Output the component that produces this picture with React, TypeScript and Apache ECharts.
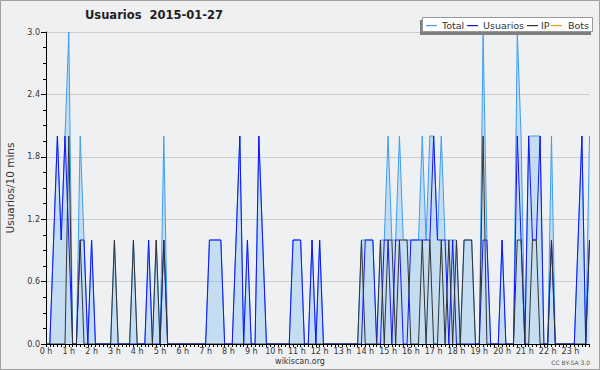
import React, { useEffect, useRef } from "react";
import * as echarts from "echarts";

const hourLabels = [
  "0 h", "1 h", "2 h", "3 h", "4 h", "5 h", "6 h", "7 h", "8 h", "9 h", "10 h", "11 h",
  "12 h", "13 h", "14 h", "15 h", "16 h", "17 h", "18 h", "19 h", "20 h", "21 h", "22 h", "23 h",
];
const minuteSlots = ["00", "10", "20", "30", "40", "50"];

const yTicks = [0, 0.6, 1.2, 1.8, 2.4, 3.0];

const seriesNames = ["Total", "Usuarios", "IP", "Bots"];

// 10-minute values, one row per hour
const total = [
  0, 0, 1, 2, 1, 2,
  3, 0, 0, 2, 1, 0,
  1, 0, 0, 0, 0, 0,
  1, 0, 0, 0, 0, 1,
  0, 0, 0, 1, 0, 1,
  0, 2, 0, 0, 0, 0,
  0, 0, 0, 0, 0, 0,
  0, 1, 1, 1, 1, 0,
  0, 0, 1, 2, 0, 1,
  0, 0, 2, 1, 0, 0,
  0, 0, 0, 0, 0, 1,
  1, 1, 0, 0, 1, 0,
  1, 0, 0, 0, 0, 0,
  0, 0, 0, 0, 0, 1,
  1, 1, 1, 0, 1, 1,
  2, 1, 1, 2, 1, 1,
  1, 1, 1, 2, 1, 2,
  2, 1, 2, 1, 1, 1,
  1, 0, 1, 1, 1, 0,
  0, 3, 1, 0, 0, 0,
  1, 0, 0, 0, 3, 2,
  0, 2, 2, 2, 2, 0,
  0, 2, 0, 0, 0, 0,
  0, 0, 1, 2, 0, 2,
];

const usuarios = [
  0, 0, 1, 2, 1, 2,
  1, 0, 0, 1, 1, 0,
  1, 0, 0, 0, 0, 0,
  0, 0, 0, 0, 0, 0,
  0, 0, 0, 1, 0, 0,
  0, 1, 0, 0, 0, 0,
  0, 0, 0, 0, 0, 0,
  0, 1, 1, 1, 1, 0,
  0, 0, 1, 2, 0, 1,
  0, 0, 2, 1, 0, 0,
  0, 0, 0, 0, 0, 1,
  1, 1, 0, 0, 1, 0,
  1, 0, 0, 0, 0, 0,
  0, 0, 0, 0, 0, 0,
  1, 1, 1, 0, 0, 1,
  1, 0, 1, 1, 0, 0,
  1, 1, 1, 1, 1, 1,
  2, 1, 1, 1, 0, 1,
  0, 0, 0, 0, 0, 0,
  0, 1, 1, 0, 0, 0,
  1, 0, 0, 0, 2, 1,
  0, 2, 1, 1, 2, 0,
  0, 1, 0, 0, 0, 0,
  0, 0, 1, 2, 0, 1,
];

const ip = [
  0, 0, 0, 0, 0, 0,
  2, 0, 0, 1, 0, 0,
  0, 0, 0, 0, 0, 0,
  1, 0, 0, 0, 0, 1,
  0, 0, 0, 0, 0, 1,
  0, 1, 0, 0, 0, 0,
  0, 0, 0, 0, 0, 0,
  0, 0, 0, 0, 0, 0,
  0, 0, 0, 0, 0, 0,
  0, 0, 0, 0, 0, 0,
  0, 0, 0, 0, 0, 0,
  0, 0, 0, 0, 0, 0,
  0, 0, 0, 0, 0, 0,
  0, 0, 0, 0, 0, 1,
  0, 0, 0, 0, 1, 0,
  1, 1, 0, 1, 1, 1,
  0, 0, 0, 1, 0, 1,
  0, 0, 1, 0, 1, 0,
  1, 0, 1, 1, 1, 0,
  0, 2, 0, 0, 0, 0,
  0, 0, 0, 0, 1, 1,
  0, 0, 1, 1, 0, 0,
  0, 1, 0, 0, 0, 0,
  0, 0, 0, 0, 0, 1,
];

const bots = [
  0, 0, 0, 0, 0, 0, 0, 0, 0, 0, 0, 0,
  0, 0, 0, 0, 0, 0, 0, 0, 0, 0, 0, 0,
  0, 0, 0, 0, 0, 0, 0, 0, 0, 0, 0, 0,
  0, 0, 0, 0, 0, 0, 0, 0, 0, 0, 0, 0,
  0, 0, 0, 0, 0, 0, 0, 0, 0, 0, 0, 0,
  0, 0, 0, 0, 0, 0, 0, 0, 0, 0, 0, 0,
  0, 0, 0, 0, 0, 0, 0, 0, 0, 0, 0, 0,
  0, 0, 0, 0, 0, 0, 0, 0, 0, 0, 0, 0,
  0, 0, 0, 0, 0, 0, 0, 0, 0, 0, 0, 0,
  0, 0, 0, 0, 0, 0, 0, 0, 0, 0, 0, 0,
  0, 0, 0, 0, 0, 0, 0, 0, 0, 0, 0, 0,
  0, 0, 0, 0, 0, 0, 0, 0, 0, 0, 0, 0,
];

const COLORS = {
  total: "#3d9df2",
  totalFill: "rgba(60,160,235,0.235)",
  usuarios: "#1414ff",
  ip: "#333333",
  bots: "#ff9900",
};
const seriesColors = [COLORS.total, COLORS.usuarios, COLORS.ip, COLORS.bots];
// legend layout: x of each entry's line start, x of its text
const legendLineX = [426, 467, 527, 551];
const legendTextX = [442, 483, 541, 568];

const FONT = "DejaVu Sans";

export default function App() {
  const ref = useRef<HTMLDivElement>(null);

  useEffect(() => {
    document.body.style.margin = "0";
    if (!ref.current) return;
    const chart = echarts.init(ref.current, undefined, { renderer: "svg" });

    const categories: string[] = [];
    hourLabels.forEach((_, h) => {
      minuteSlots.forEach((m) => categories.push(`${h}:${m}`));
    });

    const legendGraphics: any[] = [];
    seriesNames.forEach((name, k) => {
      legendGraphics.push({
        type: "rect",
        z: 11,
        silent: true,
        shape: { x: legendLineX[k], y: 25, width: 11, height: 1.2 },
        style: { fill: seriesColors[k], stroke: null },
      });
      legendGraphics.push({
        type: "text",
        z: 11,
        silent: true,
        x: legendTextX[k],
        y: 25,
        style: {
          text: name,
          fill: "#333",
          font: `9.5px "${FONT}"`,
          align: "left",
          verticalAlign: "middle",
          textAlign: "left",
          textVerticalAlign: "middle",
        },
      });
    });

    chart.setOption({
      animation: false,
      backgroundColor: "#eff0f2",
      title: {
        text: "Usuarios  2015-01-27",
        left: 85,
        top: 9,
        padding: 0,
        textStyle: { fontSize: 11.5, fontWeight: "bold", color: "#222", fontFamily: FONT },
      },
      legend: { show: false, data: seriesNames },
      grid: {
        left: 46,
        right: 10.5,
        top: 32,
        bottom: 26,
        containLabel: false,
        outerBoundsMode: "none",
      },
      xAxis: {
        type: "category",
        data: categories,
        boundaryGap: false,
        z: 3,
        axisLine: { show: true, lineStyle: { color: "#000", width: 1 } },
        axisTick: { show: true, interval: 0, length: 3, lineStyle: { color: "#000" } },
        axisLabel: {
          interval: (idx: number) => idx % 6 === 0,
          formatter: (_v: string, idx: number) => hourLabels[Math.floor(idx / 6)],
          fontSize: 8,
          color: "#333",
          margin: 3,
          fontFamily: FONT,
        },
        splitLine: { show: false },
      },
      yAxis: {
        type: "value",
        min: yTicks[0],
        max: yTicks[yTicks.length - 1],
        interval: 0.6,
        axisLine: { show: true, lineStyle: { color: "#000" } },
        axisTick: { show: true, length: 5, lineStyle: { color: "#000" } },
        minorTick: { show: true, splitNumber: 4, length: 3, lineStyle: { color: "#000" } },
        axisLabel: {
          formatter: (v: number) => v.toFixed(1),
          fontSize: 8,
          color: "#333",
          margin: 6,
          fontFamily: FONT,
        },
        splitLine: { show: true, lineStyle: { color: "#cccccc", width: 1 } },
        name: "Usuarios/10 mins",
        nameLocation: "middle",
        nameGap: 31,
        nameRotate: 90,
        nameTextStyle: { fontSize: 10.5, color: "#333", fontFamily: FONT },
      },
      series: [
        {
          name: "Bots",
          type: "line",
          data: bots,
          symbol: "none",
          z: 2,
          itemStyle: { color: COLORS.bots },
          lineStyle: { color: COLORS.bots, width: 1, opacity: 0 },
        },
        {
          name: "Total",
          type: "line",
          data: total,
          symbol: "none",
          z: 2,
          itemStyle: { color: COLORS.total },
          lineStyle: { color: COLORS.total, width: 1 },
          areaStyle: { color: COLORS.totalFill, opacity: 1 },
        },
        {
          name: "Usuarios",
          type: "line",
          data: usuarios,
          symbol: "none",
          z: 2,
          itemStyle: { color: COLORS.usuarios },
          lineStyle: { color: COLORS.usuarios, width: 1 },
        },
        {
          name: "IP",
          type: "line",
          data: ip,
          symbol: "none",
          z: 2,
          itemStyle: { color: COLORS.ip },
          lineStyle: { color: COLORS.ip, width: 1 },
        },
      ],
      graphic: [
        {
          type: "rect",
          z: 0,
          silent: true,
          shape: { x: 0.5, y: 0.5, width: 599, height: 369 },
          style: { fill: "none", stroke: "#a0a0a0", lineWidth: 1 },
        },
        {
          type: "rect",
          z: 10,
          silent: true,
          shape: { x: 420, y: 20, width: 171, height: 15 },
          style: { fill: "#7f7f7f" },
        },
        {
          type: "rect",
          z: 10,
          silent: true,
          shape: { x: 422.5, y: 17.5, width: 170, height: 14 },
          style: { fill: "#ffffff", stroke: "#999999", lineWidth: 1 },
        },
        ...legendGraphics,
        {
          type: "text",
          z: 10,
          silent: true,
          x: 300,
          y: 361,
          style: {
            text: "wikiscan.org",
            fill: "#333",
            font: `8px "${FONT}"`,
            align: "center",
            verticalAlign: "middle",
            textAlign: "center",
            textVerticalAlign: "middle",
          },
        },
        {
          type: "text",
          z: 10,
          silent: true,
          x: 590,
          y: 362,
          style: {
            text: "CC BY-SA 3.0",
            fill: "#555",
            font: `6px "${FONT}"`,
            align: "right",
            verticalAlign: "middle",
            textAlign: "right",
            textVerticalAlign: "middle",
          },
        },
      ],
    });

    return () => chart.dispose();
  }, []);

  return <div ref={ref} style={{ width: 600, height: 370 }} />;
}
